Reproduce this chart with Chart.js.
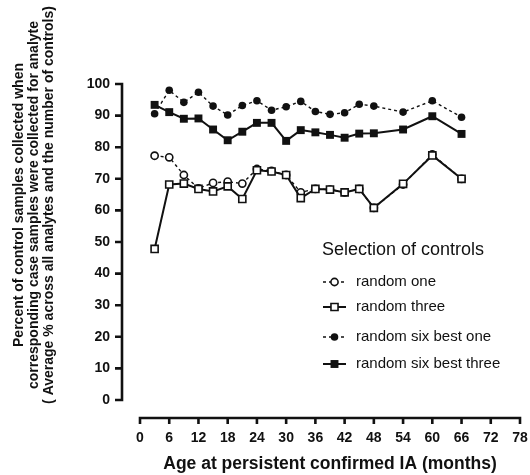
<!DOCTYPE html>
<html>
<head>
<meta charset="utf-8">
<script src="https://cdn.jsdelivr.net/npm/chart.js@4.4.0/dist/chart.umd.min.js"></script>
<style>
  body { margin: 0; background: #fff; }
</style>
</head>
<body>
<canvas id="chart" width="530" height="475"></canvas>
<script>
// Age at persistent confirmed IA (months)
const ages = [3, 6, 9, 12, 15, 18, 21, 24, 27, 30, 33, 36, 39, 42, 45, 48, 54, 60, 66];

// Percent of control samples collected, per selection method
const randomOne    = [77.3, 76.8, 71.2, 67.0, 68.7, 69.1, 68.5, 73.1, 72.5, 71.2, 65.7, 66.8, 66.6, 65.7, 66.8, 60.8, 68.2, 77.7, 70.0];
const randomThree  = [47.8, 68.2, 68.5, 66.8, 66.0, 67.6, 63.6, 72.7, 72.3, 71.2, 63.9, 66.8, 66.6, 65.7, 66.8, 60.8, 68.4, 77.4, 70.0];
const sixBestOne   = [90.6, 98.0, 94.2, 97.4, 93.0, 90.2, 93.2, 94.7, 91.7, 92.8, 94.5, 91.3, 90.4, 90.9, 93.6, 93.0, 91.1, 94.7, 89.5];
const sixBestThree = [93.4, 91.1, 89.0, 89.1, 85.6, 82.2, 84.9, 87.7, 87.7, 82.0, 85.4, 84.7, 83.9, 83.0, 84.3, 84.4, 85.6, 89.8, 84.2];

const seriesNames = ['random one', 'random three', 'random six best one', 'random six best three'];
const xTicks = [0, 6, 12, 18, 24, 30, 36, 42, 48, 54, 60, 66, 72, 78];
const yTicks = [0, 10, 20, 30, 40, 50, 60, 70, 80, 90, 100];

const xTitle = 'Age at persistent confirmed IA (months)';
const yTitle = [
    'Percent of control samples collected when',
    'corresponding case samples were collected for analyte',
    '( Average % across all analytes and the number of controls)'
];
const legendTitle = 'Selection of controls';

const FONT = '"Liberation Sans", Arial, Helvetica, sans-serif';
const INK = '#111';

const toPoints = vals => vals.map((v, i) => ({ x: ages[i], y: v }));

// axes in the reference are detached from the plot (prism style)
const detachedAxes = {
    id: 'detachedAxes',
    afterDraw(chart) {
        const { ctx, scales: { x, y } } = chart;
        const axisX = x.left - 18;
        const axisY = y.bottom + 18;
        ctx.save();
        ctx.strokeStyle = INK;
        ctx.lineWidth = 2.6;
        ctx.lineCap = 'butt';
        ctx.beginPath();
        ctx.moveTo(axisX, y.getPixelForValue(yTicks[yTicks.length - 1]) - 1.3);
        ctx.lineTo(axisX, y.getPixelForValue(yTicks[0]) + 1.3);
        y.ticks.forEach(t => {
            const py = y.getPixelForValue(t.value);
            ctx.moveTo(axisX - 7, py);
            ctx.lineTo(axisX, py);
        });
        ctx.moveTo(x.getPixelForValue(xTicks[0]) - 1.3, axisY);
        ctx.lineTo(x.getPixelForValue(xTicks[xTicks.length - 1]) + 1.3, axisY);
        x.ticks.forEach(t => {
            const px = x.getPixelForValue(t.value);
            ctx.moveTo(px, axisY);
            ctx.lineTo(px, axisY + 6);
        });
        ctx.stroke();
        ctx.restore();
    }
};

const yAxisTitle = {
    id: 'yAxisTitle',
    afterDraw(chart) {
        const ctx = chart.ctx;
        ctx.save();
        ctx.translate(0, 205);
        ctx.rotate(-Math.PI / 2);
        ctx.font = 'bold 14px ' + FONT;
        ctx.fillStyle = INK;
        ctx.textAlign = 'center';
        ctx.textBaseline = 'middle';
        yTitle.forEach((line, i) => ctx.fillText(line, 0, 19 + i * 15));
        ctx.restore();
    }
};

const legendBox = {
    id: 'legendBox',
    afterDraw(chart) {
        const ctx = chart.ctx;
        const rows = [282, 307, 337, 364];
        ctx.save();
        ctx.fillStyle = INK;
        ctx.textBaseline = 'middle';
        ctx.font = '18px ' + FONT;
        ctx.fillText(legendTitle, 322, 250);
        chart.data.datasets.forEach((ds, i) => {
            const cy = rows[i];
            ctx.strokeStyle = ds.borderColor;
            ctx.lineWidth = ds.borderWidth;
            ctx.setLineDash(ds.borderDash || []);
            ctx.beginPath();
            ctx.moveTo(323, cy);
            ctx.lineTo(346, cy);
            ctx.stroke();
            ctx.setLineDash([]);
            ctx.fillStyle = ds.pointBackgroundColor;
            ctx.strokeStyle = ds.pointBorderColor;
            ctx.lineWidth = ds.pointBorderWidth;
            Chart.helpers.drawPoint(ctx, {
                pointStyle: ds.pointStyle,
                radius: ds.pointRadius,
                borderWidth: ds.pointBorderWidth,
                rotation: 0
            }, 334.5, cy);
            ctx.fillStyle = INK;
            ctx.font = '15px ' + FONT;
            ctx.fillText(ds.label, 356, cy);
        });
        ctx.restore();
    }
};

new Chart(document.getElementById('chart'), {
    type: 'line',
    data: {
        datasets: [{
            label: seriesNames[0],
            data: toPoints(randomOne),
            borderColor: INK,
            borderWidth: 1.4,
            borderDash: [3, 3],
            pointStyle: 'circle',
            pointRadius: 3.6,
            pointBackgroundColor: '#fff',
            pointBorderColor: INK,
            pointBorderWidth: 1.6,
            order: 4
        }, {
            label: seriesNames[1],
            data: toPoints(randomThree),
            borderColor: INK,
            borderWidth: 2,
            pointStyle: 'rect',
            pointRadius: 5,
            pointBackgroundColor: '#fff',
            pointBorderColor: INK,
            pointBorderWidth: 1.6,
            order: 3
        }, {
            label: seriesNames[2],
            data: toPoints(sixBestOne),
            borderColor: INK,
            borderWidth: 1.4,
            borderDash: [3, 3],
            pointStyle: 'circle',
            pointRadius: 3.8,
            pointBackgroundColor: INK,
            pointBorderColor: INK,
            pointBorderWidth: 0,
            order: 2
        }, {
            label: seriesNames[3],
            data: toPoints(sixBestThree),
            borderColor: INK,
            borderWidth: 2,
            pointStyle: 'rect',
            pointRadius: 5.6,
            pointBackgroundColor: INK,
            pointBorderColor: INK,
            pointBorderWidth: 0,
            order: 1
        }]
    },
    options: {
        responsive: false,
        animation: false,
        clip: false,
        layout: { padding: { top: 84, right: 10, left: 0, bottom: 0 } },
        plugins: {
            legend: { display: false },
            tooltip: { enabled: false }
        },
        scales: {
            x: {
                type: 'linear',
                min: 0,
                max: 78,
                // invisible tick length pushes the labels below the detached axis
                grid: { display: false, drawTicks: true, tickLength: 30 },
                border: { display: false },
                afterBuildTicks: s => { s.ticks = xTicks.map(v => ({ value: v })); },
                afterFit: s => { s.height = 75; },
                ticks: {
                    autoSkip: false,
                    maxRotation: 0,
                    padding: 0,
                    color: INK,
                    font: { family: FONT, size: 14, weight: 'bold' }
                },
                title: {
                    display: true,
                    text: xTitle,
                    color: INK,
                    padding: 0,
                    font: { family: FONT, size: 17.5, weight: 'bold' }
                }
            },
            y: {
                min: 0,
                max: 100,
                grid: { display: false, drawTicks: false },
                border: { display: false },
                afterBuildTicks: s => { s.ticks = yTicks.map(v => ({ value: v })); },
                afterFit: s => { s.width = 140; },
                ticks: {
                    padding: 30,
                    color: INK,
                    font: { family: FONT, size: 14, weight: 'bold' }
                }
            }
        }
    },
    plugins: [detachedAxes, yAxisTitle, legendBox]
});
</script>
</body>
</html>
